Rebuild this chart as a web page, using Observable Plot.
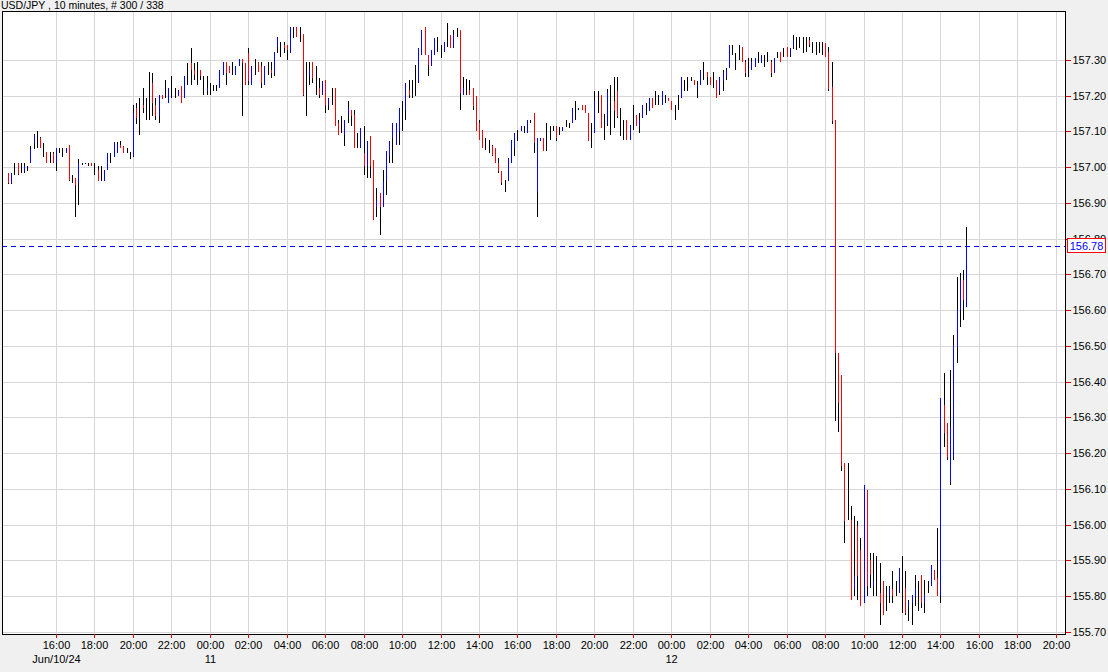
<!DOCTYPE html>
<html><head><meta charset="utf-8">
<script src="https://cdn.jsdelivr.net/npm/d3@7"></script>
<script src="https://cdn.jsdelivr.net/npm/@observablehq/plot@0.6"></script>
<style>
html,body{margin:0;padding:0;background:#f0f0f0;}
#wrap{position:relative;width:1108px;height:672px;font-family:"Liberation Sans",Arial,sans-serif;}
#title{position:absolute;left:1px;top:0px;font-size:10.5px;line-height:10.5px;color:#000;white-space:nowrap;z-index:2;}
#wrap svg{position:absolute;left:0;top:0;}
</style></head><body>
<div id="wrap"><div id="title">USD/JPY , 10 minutes, # 300 / 338</div></div>
<script>
const titleText = "USD/JPY , 10 minutes, # 300 / 338";
const startTime = "2024-06-10T13:30:00Z";
const intervalMinutes = 10;
const lastPrice = 156.78;

const open = [
156.983,156.955,156.995,157.011,156.985,156.988,157.000,157.011,157.069,157.080,
157.081,157.050,157.043,157.030,157.040,157.011,157.045,157.045,157.039,157.062,
156.965,156.969,156.955,157.008,157.010,157.006,157.011,157.000,156.992,156.970,
156.960,156.992,157.030,157.029,157.039,157.062,157.059,157.045,157.035,157.030,
157.165,157.150,157.174,157.170,157.190,157.235,157.174,157.142,157.202,157.200,
157.179,157.210,157.205,157.198,157.226,157.193,157.260,157.291,157.272,157.260,
157.272,157.230,157.212,157.215,157.220,157.220,157.221,157.258,157.295,157.282,
157.270,157.258,157.282,157.302,157.291,157.320,157.230,157.280,157.295,157.282,
157.230,157.270,157.272,157.263,157.337,157.345,157.342,157.342,157.319,157.375,
157.391,157.370,157.373,157.200,157.254,157.295,157.240,157.221,157.202,157.244,
157.174,157.190,157.221,157.123,157.110,157.090,157.146,157.160,157.146,157.070,
157.053,157.039,157.002,157.086,157.021,156.890,156.927,156.890,156.960,157.030,
157.081,157.063,157.100,157.140,157.160,157.216,157.210,157.220,157.235,157.314,
157.393,157.314,157.282,157.314,157.340,157.330,157.323,157.360,157.370,157.335,
157.375,157.384,157.202,157.220,157.216,157.221,157.198,157.123,157.104,157.065,
157.060,157.058,157.053,157.011,156.988,156.945,156.960,157.011,157.053,157.090,
157.100,157.105,157.095,157.128,157.151,156.932,157.072,157.081,157.070,157.090,
157.105,157.114,157.100,157.100,157.120,157.118,157.123,157.150,157.162,157.174,
157.174,157.151,157.090,157.095,157.180,157.202,157.100,157.120,157.170,157.184,
157.212,157.150,157.100,157.132,157.076,157.130,157.146,157.114,157.137,157.160,
157.156,157.193,157.190,157.190,157.174,157.190,157.193,157.184,157.150,157.170,
157.193,157.230,157.230,157.245,157.244,157.221,157.230,157.270,157.267,157.253,
157.240,157.244,157.212,157.240,157.253,157.277,157.330,157.300,157.320,157.337,
157.295,157.270,157.272,157.281,157.300,157.291,157.300,157.310,157.295,157.263,
157.310,157.323,157.310,157.337,157.314,157.335,157.350,157.350,157.340,157.345,
157.356,157.340,157.340,157.340,157.340,157.347,157.323,157.223,157.132,156.479,
156.420,156.172,156.100,156.013,155.818,155.995,155.929,155.780,156.097,155.901,
155.827,155.850,155.808,155.841,155.790,155.799,155.820,155.820,155.808,155.830,
155.822,155.771,155.780,155.799,155.800,155.860,155.780,155.825,155.827,155.873,
155.850,155.800,156.335,156.284,156.120,156.190,156.498,156.600,156.684,156.610];

const high = [
156.983,156.983,157.013,157.013,157.013,157.013,157.002,157.059,157.093,157.101,
157.085,157.067,157.043,157.043,157.043,157.053,157.053,157.053,157.053,157.062,
156.978,156.969,157.022,157.011,157.013,157.011,157.011,157.011,157.002,157.002,
156.992,157.041,157.041,157.071,157.071,157.074,157.059,157.053,157.043,157.174,
157.179,157.193,157.221,157.193,157.265,157.263,157.193,157.202,157.202,157.244,
157.221,157.254,157.221,157.216,157.226,157.254,157.291,157.333,157.291,157.295,
157.272,157.254,157.254,157.235,157.230,157.230,157.272,157.295,157.295,157.282,
157.295,157.282,157.302,157.302,157.291,157.333,157.282,157.302,157.295,157.295,
157.282,157.295,157.295,157.321,157.365,157.351,157.351,157.342,157.391,157.391,
157.393,157.393,157.373,157.295,157.295,157.295,157.282,157.249,157.240,157.244,
157.193,157.221,157.221,157.132,157.142,157.132,157.184,157.160,157.160,157.095,
157.109,157.114,157.072,157.086,157.021,156.941,156.927,156.993,157.044,157.072,
157.123,157.123,157.165,157.184,157.235,157.244,157.244,157.286,157.333,157.384,
157.393,157.314,157.328,157.361,157.365,157.342,157.351,157.403,157.370,157.384,
157.390,157.384,157.253,157.246,157.244,157.221,157.198,157.132,157.104,157.081,
157.076,157.062,157.053,157.025,156.988,156.965,157.025,157.076,157.095,157.104,
157.114,157.114,157.132,157.132,157.151,157.081,157.081,157.081,157.123,157.114,
157.114,157.114,157.112,157.112,157.132,157.125,157.165,157.184,157.165,157.174,
157.174,157.151,157.123,157.212,157.212,157.202,157.150,157.220,157.230,157.253,
157.253,157.165,157.132,157.132,157.118,157.174,157.146,157.151,157.174,157.179,
157.193,157.193,157.212,157.202,157.212,157.202,157.193,157.184,157.174,157.202,
157.253,157.244,157.253,157.253,157.244,157.240,157.272,157.295,157.267,157.253,
157.267,157.244,157.253,157.272,157.277,157.342,157.342,157.319,157.342,157.337,
157.300,157.305,157.305,157.305,157.323,157.314,157.314,157.323,157.300,157.305,
157.323,157.323,157.333,157.337,157.333,157.370,157.365,157.365,157.365,157.365,
157.365,157.351,157.351,157.351,157.351,157.347,157.336,157.293,157.132,156.479,
156.420,156.172,156.172,156.051,156.023,156.009,155.962,156.111,156.097,155.920,
155.920,155.911,155.892,155.841,155.827,155.827,155.869,155.841,155.878,155.911,
155.869,155.790,155.804,155.860,155.841,155.860,155.846,155.841,155.887,155.873,
155.990,156.353,156.423,156.284,156.433,156.530,156.694,156.703,156.712,156.833];

const low = [
156.952,156.952,156.978,156.978,156.983,156.983,156.990,157.011,157.050,157.053,
157.053,157.029,157.011,157.011,157.011,156.990,157.039,157.029,157.039,156.960,
156.955,156.862,156.894,157.006,157.009,157.002,157.002,156.978,156.960,156.960,
156.960,156.992,157.011,157.029,157.039,157.053,157.039,157.039,157.022,157.029,
157.121,157.090,157.151,157.132,157.132,157.142,157.132,157.123,157.191,157.193,
157.179,157.193,157.193,157.198,157.179,157.193,157.230,157.230,157.244,157.230,
157.244,157.202,157.202,157.202,157.212,157.212,157.221,157.258,157.230,157.263,
157.258,157.258,157.282,157.142,157.230,157.230,157.230,157.258,157.267,157.221,
157.230,157.258,157.249,157.254,157.319,157.309,157.319,157.300,157.319,157.361,
157.365,157.351,157.200,157.142,157.230,157.235,157.202,157.193,157.202,157.151,
157.160,157.174,157.114,157.090,157.095,157.060,157.123,157.114,157.053,157.053,
157.053,156.979,156.969,156.969,156.853,156.862,156.811,156.890,156.923,157.011,
157.011,157.063,157.063,157.100,157.132,157.193,157.193,157.198,157.235,157.314,
157.314,157.254,157.282,157.314,157.323,157.305,157.323,157.337,157.333,157.333,
157.365,157.160,157.202,157.202,157.202,157.160,157.100,157.076,157.053,157.048,
157.039,157.030,157.011,156.983,156.951,156.932,156.960,157.011,157.030,157.072,
157.100,157.095,157.095,157.123,157.039,156.862,157.072,157.044,157.044,157.076,
157.100,157.072,157.090,157.100,157.112,157.109,157.123,157.132,157.160,157.160,
157.151,157.072,157.053,157.095,157.151,157.109,157.075,157.114,157.090,157.109,
157.137,157.086,157.076,157.076,157.076,157.104,157.114,157.095,157.137,157.146,
157.156,157.165,157.174,157.174,157.174,157.179,157.184,157.160,157.132,157.160,
157.193,157.212,157.212,157.240,157.230,157.193,157.230,157.244,157.230,157.230,
157.221,157.193,157.202,157.212,157.244,157.277,157.314,157.272,157.300,157.295,
157.253,157.253,157.272,157.281,157.291,157.291,157.281,157.295,157.253,157.263,
157.305,157.295,157.309,157.309,157.309,157.330,157.328,157.333,157.319,157.323,
157.335,157.319,157.314,157.319,157.314,157.309,157.213,157.122,156.290,156.260,
156.150,155.948,156.013,155.790,155.799,155.790,155.771,155.780,155.799,155.822,
155.799,155.799,155.720,155.748,155.757,155.780,155.780,155.799,155.808,155.752,
155.748,155.729,155.720,155.771,155.757,155.766,155.752,155.808,155.827,155.846,
155.799,155.780,156.218,156.181,156.111,156.181,156.451,156.554,156.572,156.610];

const close = [
156.955,156.980,156.995,156.980,156.985,157.003,157.000,157.050,157.090,157.080,
157.053,157.050,157.011,157.030,157.013,157.053,157.045,157.045,157.053,156.965,
156.965,156.950,157.011,157.008,157.010,157.006,157.002,157.000,156.960,156.970,
156.992,157.041,157.030,157.071,157.065,157.053,157.039,157.045,157.035,157.151,
157.137,157.150,157.165,157.170,157.190,157.179,157.142,157.202,157.191,157.200,
157.221,157.210,157.205,157.216,157.179,157.254,157.260,157.272,157.258,157.260,
157.254,157.230,157.221,157.215,157.220,157.220,157.272,157.295,157.263,157.263,
157.270,157.282,157.302,157.291,157.230,157.240,157.282,157.280,157.267,157.235,
157.282,157.270,157.263,157.321,157.365,157.345,157.333,157.328,157.391,157.375,
157.365,157.370,157.202,157.200,157.272,157.249,157.240,157.202,157.240,157.174,
157.193,157.190,157.114,157.090,157.110,157.132,157.165,157.142,157.053,157.070,
157.109,157.002,157.072,157.002,156.853,156.909,156.890,156.960,157.044,157.072,
157.123,157.123,157.165,157.140,157.235,157.202,157.210,157.220,157.333,157.384,
157.314,157.286,157.328,157.361,157.340,157.330,157.351,157.360,157.333,157.370,
157.375,157.207,157.221,157.220,157.202,157.170,157.100,157.076,157.053,157.065,
157.060,157.035,157.011,156.988,156.955,156.945,157.025,157.076,157.095,157.090,
157.114,157.105,157.132,157.128,157.067,157.081,157.081,157.044,157.070,157.090,
157.105,157.081,157.100,157.112,157.120,157.118,157.165,157.150,157.162,157.160,
157.151,157.072,157.090,157.184,157.180,157.109,157.100,157.210,157.170,157.156,
157.142,157.150,157.100,157.076,157.118,157.130,157.114,157.132,157.174,157.160,
157.193,157.165,157.190,157.190,157.212,157.190,157.184,157.160,157.150,157.170,
157.253,157.230,157.230,157.245,157.230,157.230,157.272,157.270,157.253,157.230,
157.240,157.193,157.250,157.263,157.272,157.342,157.330,157.300,157.320,157.295,
157.263,157.270,157.295,157.305,157.300,157.314,157.300,157.310,157.263,157.305,
157.310,157.295,157.310,157.309,157.333,157.355,157.350,157.350,157.340,157.345,
157.342,157.340,157.340,157.340,157.340,157.309,157.220,157.130,156.480,156.340,
156.164,156.009,156.100,155.790,155.855,155.855,155.771,156.111,155.827,155.860,
155.841,155.850,155.780,155.748,155.790,155.822,155.800,155.820,155.878,155.830,
155.752,155.785,155.804,155.822,155.800,155.780,155.804,155.825,155.887,155.846,
155.799,156.353,156.256,156.190,156.274,156.500,156.600,156.684,156.628,156.782];

const yTicks = [155.7,155.8,155.9,156.0,156.1,156.2,156.3,156.4,156.5,156.6,156.7,156.8,156.9,157.0,157.1,157.2,157.3];
const timeTickStart = "2024-06-10T16:00:00Z";
const timeTickEnd = "2024-06-12T20:00:00Z";
const dateTicks = ["2024-06-10T16:00:00Z","2024-06-11T00:00:00Z","2024-06-12T00:00:00Z"];
const dateLabels = ["Jun/10/24","11","12"];
const xDomain = ["2024-06-10T13:11:30Z","2024-06-12T20:28:30Z"];
const yDomain = [155.694, 157.437];

const t0 = new Date(startTime);
const bars = open.map((o, i) => ({
  t: d3.utcMinute.offset(t0, i * intervalMinutes),
  open: o, high: high[i], low: low[i], close: close[i]
}));
const up = bars.filter(d => d.close > d.open);
const down = bars.filter(d => d.close < d.open);
const timeTicks = d3.utcHour.every(2).range(new Date(timeTickStart), d3.utcMinute.offset(new Date(timeTickEnd), 1));
const dateTickDates = dateTicks.map(s => new Date(s));
const dateLabelMap = new Map(dateTickDates.map((d, i) => [+d, dateLabels[i]]));

const plot = Plot.plot({
  width: 1108, height: 672,
  marginLeft: 2, marginRight: 43, marginTop: 11, marginBottom: 38,
  style: {background: "transparent", fontFamily: '"Liberation Sans", Arial, sans-serif', fontSize: "11px", color: "black", overflow: "visible"},
  x: {type: "utc", domain: xDomain.map(s => new Date(s)), round: true},
  y: {domain: yDomain, round: true},
  marks: [
    Plot.frame({fill: "white", stroke: null}),
    Plot.gridX(timeTicks, {stroke: "#d6d6d6", strokeOpacity: 1}),
    Plot.gridY(yTicks, {stroke: "#d6d6d6", strokeOpacity: 1}),
    Plot.ruleY([lastPrice], {stroke: "#0000ff", strokeDasharray: "5,4"}),
    Plot.ruleX(bars, {x: "t", y1: "low", y2: "high", stroke: "black"}),
    Plot.ruleX(up, {x: "t", y1: "open", y2: "close", stroke: "#0000ff"}),
    Plot.ruleX(down, {x: "t", y1: "open", y2: "close", stroke: "#ff0000"}),
    Plot.frame({stroke: "black"}),
    Plot.axisY(yTicks, {anchor: "right", tickSize: 5, tickPadding: 2, stroke: "#e00000", fill: "black", tickFormat: d3.format(".2f"), label: null}),
    Plot.axisX(timeTicks, {anchor: "bottom", tickSize: 4, tickPadding: 3, stroke: "#e00000", fill: "black", tickFormat: d3.utcFormat("%H:%M"), label: null}),
    Plot.axisX(dateTickDates, {anchor: "bottom", tickSize: 0, tickPadding: 21, fill: "black", tickFormat: d => dateLabelMap.get(+d), label: null})
  ]
});

// current price marker box on the right axis, placed through the y scale
const ys = plot.scale("y");
const yy = Math.round(ys.apply(lastPrice));
const svg = d3.select(plot);
const g = svg.append("g");
g.append("rect").attr("x", 1067.5).attr("y", yy - 7.5).attr("width", 38).attr("height", 14)
  .attr("fill", "white").attr("stroke", "#ff0000");
g.append("text").attr("x", 1086.5).attr("y", yy).attr("dy", "0.35em").attr("text-anchor", "middle")
  .attr("fill", "#0000ff").attr("font-size", "11px").text(d3.format(".2f")(lastPrice));

document.getElementById("wrap").appendChild(plot);
document.getElementById("title").textContent = titleText;
</script>
</body></html>
